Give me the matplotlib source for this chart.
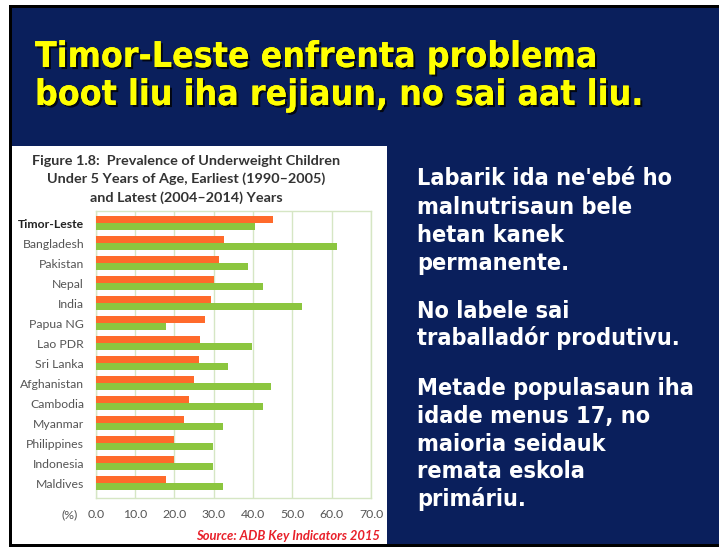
import matplotlib
matplotlib.use("Agg")
import matplotlib.pyplot as plt
import matplotlib.patheffects as pe
from matplotlib.patches import Rectangle
from matplotlib import font_manager as fm

W, H = 719, 547

countries = ["Timor-Leste", "Bangladesh", "Pakistan", "Nepal", "India", "Papua NG",
             "Lao PDR", "Sri Lanka", "Afghanistan", "Cambodia", "Myanmar",
             "Philippines", "Indonesia", "Maldives"]
latest = [45.2, 32.5, 31.4, 30.0, 29.3, 27.9, 26.5, 26.3, 24.9, 23.7, 22.4, 20.0, 20.0, 17.8]
earliest = [40.5, 61.4, 38.8, 42.5, 52.5, 17.9, 39.8, 33.7, 44.7, 42.5, 32.3, 29.9, 29.9, 32.3]
xticks = [0, 10, 20, 30, 40, 50, 60, 70]
xtick_labels = ["0.0", "10.0", "20.0", "30.0", "40.0", "50.0", "60.0", "70.0"]

title_lines = ["Timor-Leste enfrenta problema", "boot liu iha rejiaun, no sai aat liu."]
chart_title = ["Figure 1.8:  Prevalence of Underweight Children",
               "Under 5 Years of Age, Earliest (1990\u20132005)",
               "and Latest (2004\u20132014) Years"]
source = "Source: ADB Key Indicators 2015"
body = [["Labarik ida ne'ebé ho", "malnutrisaun bele", "hetan kanek", "permanente."],
        ["No labele sai", "traballadór produtivu."],
        ["Metade populasaun iha", "idade menus 17, no", "maioria seidauk", "remata eskola", "primáriu."]]

NAVY = "#0a1f5c"
ORANGE = "#ff6a2b"
GREEN = "#8cc63f"
GRID = "#d6e6c4"


def _w(f):
    w = f.weight
    if isinstance(w, str):
        w = fm.weight_dict.get(w, 400)
    return w


def pick_bold(cands):
    for name, stretch in cands:
        for f in fm.fontManager.ttflist:
            if f.name != name or _w(f) < 600 or f.style != "normal":
                continue
            st = f.stretch if isinstance(f.stretch, str) else ("condensed" if f.stretch < 500 else "normal")
            if stretch == "condensed" and "condensed" not in str(st):
                continue
            if stretch == "normal" and "condensed" in str(st):
                continue
            return f.fname
    return None


bold_fname = pick_bold([("DejaVu Sans", "condensed"), ("Open Sans", "normal"),
                        ("Roboto", "normal"), ("DejaVu Sans", "normal")])


def bold_fp(size):
    if bold_fname:
        return fm.FontProperties(fname=bold_fname, size=size)
    return fm.FontProperties(family="DejaVu Sans", weight="bold", size=size)


fig = plt.figure(figsize=(W / 100, H / 100), dpi=100)
fig.patch.set_facecolor("white")
renderer = fig.canvas.get_renderer()


def fx(x):
    return x / W


def fy(y):
    return 1 - y / H


def fit_size(text, target_px, base=20.0):
    t = fig.text(0, 0, text, fontproperties=bold_fp(base))
    w = t.get_window_extent(renderer).width
    t.remove()
    return base * target_px / w


# slide background with black frame
fig.patches.append(Rectangle((fx(9), fy(547)), fx(719 - 9), (547 - 5) / H, transform=fig.transFigure,
                             facecolor="black", edgecolor="none", zorder=0))
fig.patches.append(Rectangle((fx(12), fy(544)), fx(719 - 12), (544 - 8) / H, transform=fig.transFigure,
                             facecolor=NAVY, edgecolor="none", zorder=0))
# white chart panel
fig.patches.append(Rectangle((fx(12), fy(544)), fx(387 - 12), (544 - 146) / H, transform=fig.transFigure,
                             facecolor="white", edgecolor="none", zorder=1))

# title
tsize = fit_size(title_lines[0], 563)
shadow = [pe.withSimplePatchShadow(offset=(1.5, -1.5), shadow_rgbFace="black", alpha=0.8), pe.Normal()]
for line, yb in zip(title_lines, [67, 105]):
    fig.text(fx(35), fy(yb), line, color="#ffff00", fontproperties=bold_fp(tsize),
             va="baseline", ha="left", path_effects=shadow)

# right text
bsize = fit_size(body[2][0], 278)
ys = [[185, 214, 242, 270], [318, 345], [395, 423, 451, 478, 506]]
for para, ylist in zip(body, ys):
    for line, yb in zip(para, ylist):
        fig.text(fx(417), fy(yb), line, color="white", fontproperties=bold_fp(bsize),
                 va="baseline", ha="left")

# chart title
for line, yb in zip(chart_title, [165, 183, 202]):
    fig.text(fx(186.5), fy(yb), line, color="#333333", fontsize=10.4, fontweight="bold",
             family="Lato", va="baseline", ha="center", zorder=3)

# axes
ax = fig.add_axes([fx(95.7), fy(498), fx(371 - 95.7), (498 - 211) / H])
ax.set_facecolor("white")
ax.set_zorder(2)
n = len(countries)
pos = list(range(n))
bh = 0.36
ax.barh([p - bh / 2 for p in pos], latest, height=bh, color=ORANGE, zorder=3)
ax.barh([p + bh / 2 for p in pos], earliest, height=bh, color=GREEN, zorder=3)
ax.set_xlim(0, 70)
ax.set_ylim(13.75, -0.6)
ax.set_xticks(xticks)
ax.set_xticklabels(xtick_labels)
ax.set_yticks(pos)
ax.set_yticklabels(countries)
ax.grid(axis="x", color=GRID, linewidth=1.0, zorder=0)
ax.tick_params(axis="both", length=0, labelsize=8.8, labelcolor="#555555")
ax.tick_params(axis="x", pad=8)
ax.tick_params(axis="y", pad=8.4)
for lab in ax.get_xticklabels() + ax.get_yticklabels():
    lab.set_family("Lato")
ax.get_yticklabels()[0].set_fontweight("bold")
ax.get_yticklabels()[0].set_color("#222222")
for s in ax.spines.values():
    s.set_color(GRID)
    s.set_linewidth(1.0)

fig.text(fx(62), fy(518), "(%)", color="#555555", fontsize=8.8, family="Lato",
         va="baseline", ha="left", zorder=3)
fig.text(fx(380), fy(540), source, color="#e8202a", fontsize=9.4, fontweight="bold",
         style="italic", family="Lato", va="baseline", ha="right", zorder=3)

fig.savefig("out.png", dpi=100)
